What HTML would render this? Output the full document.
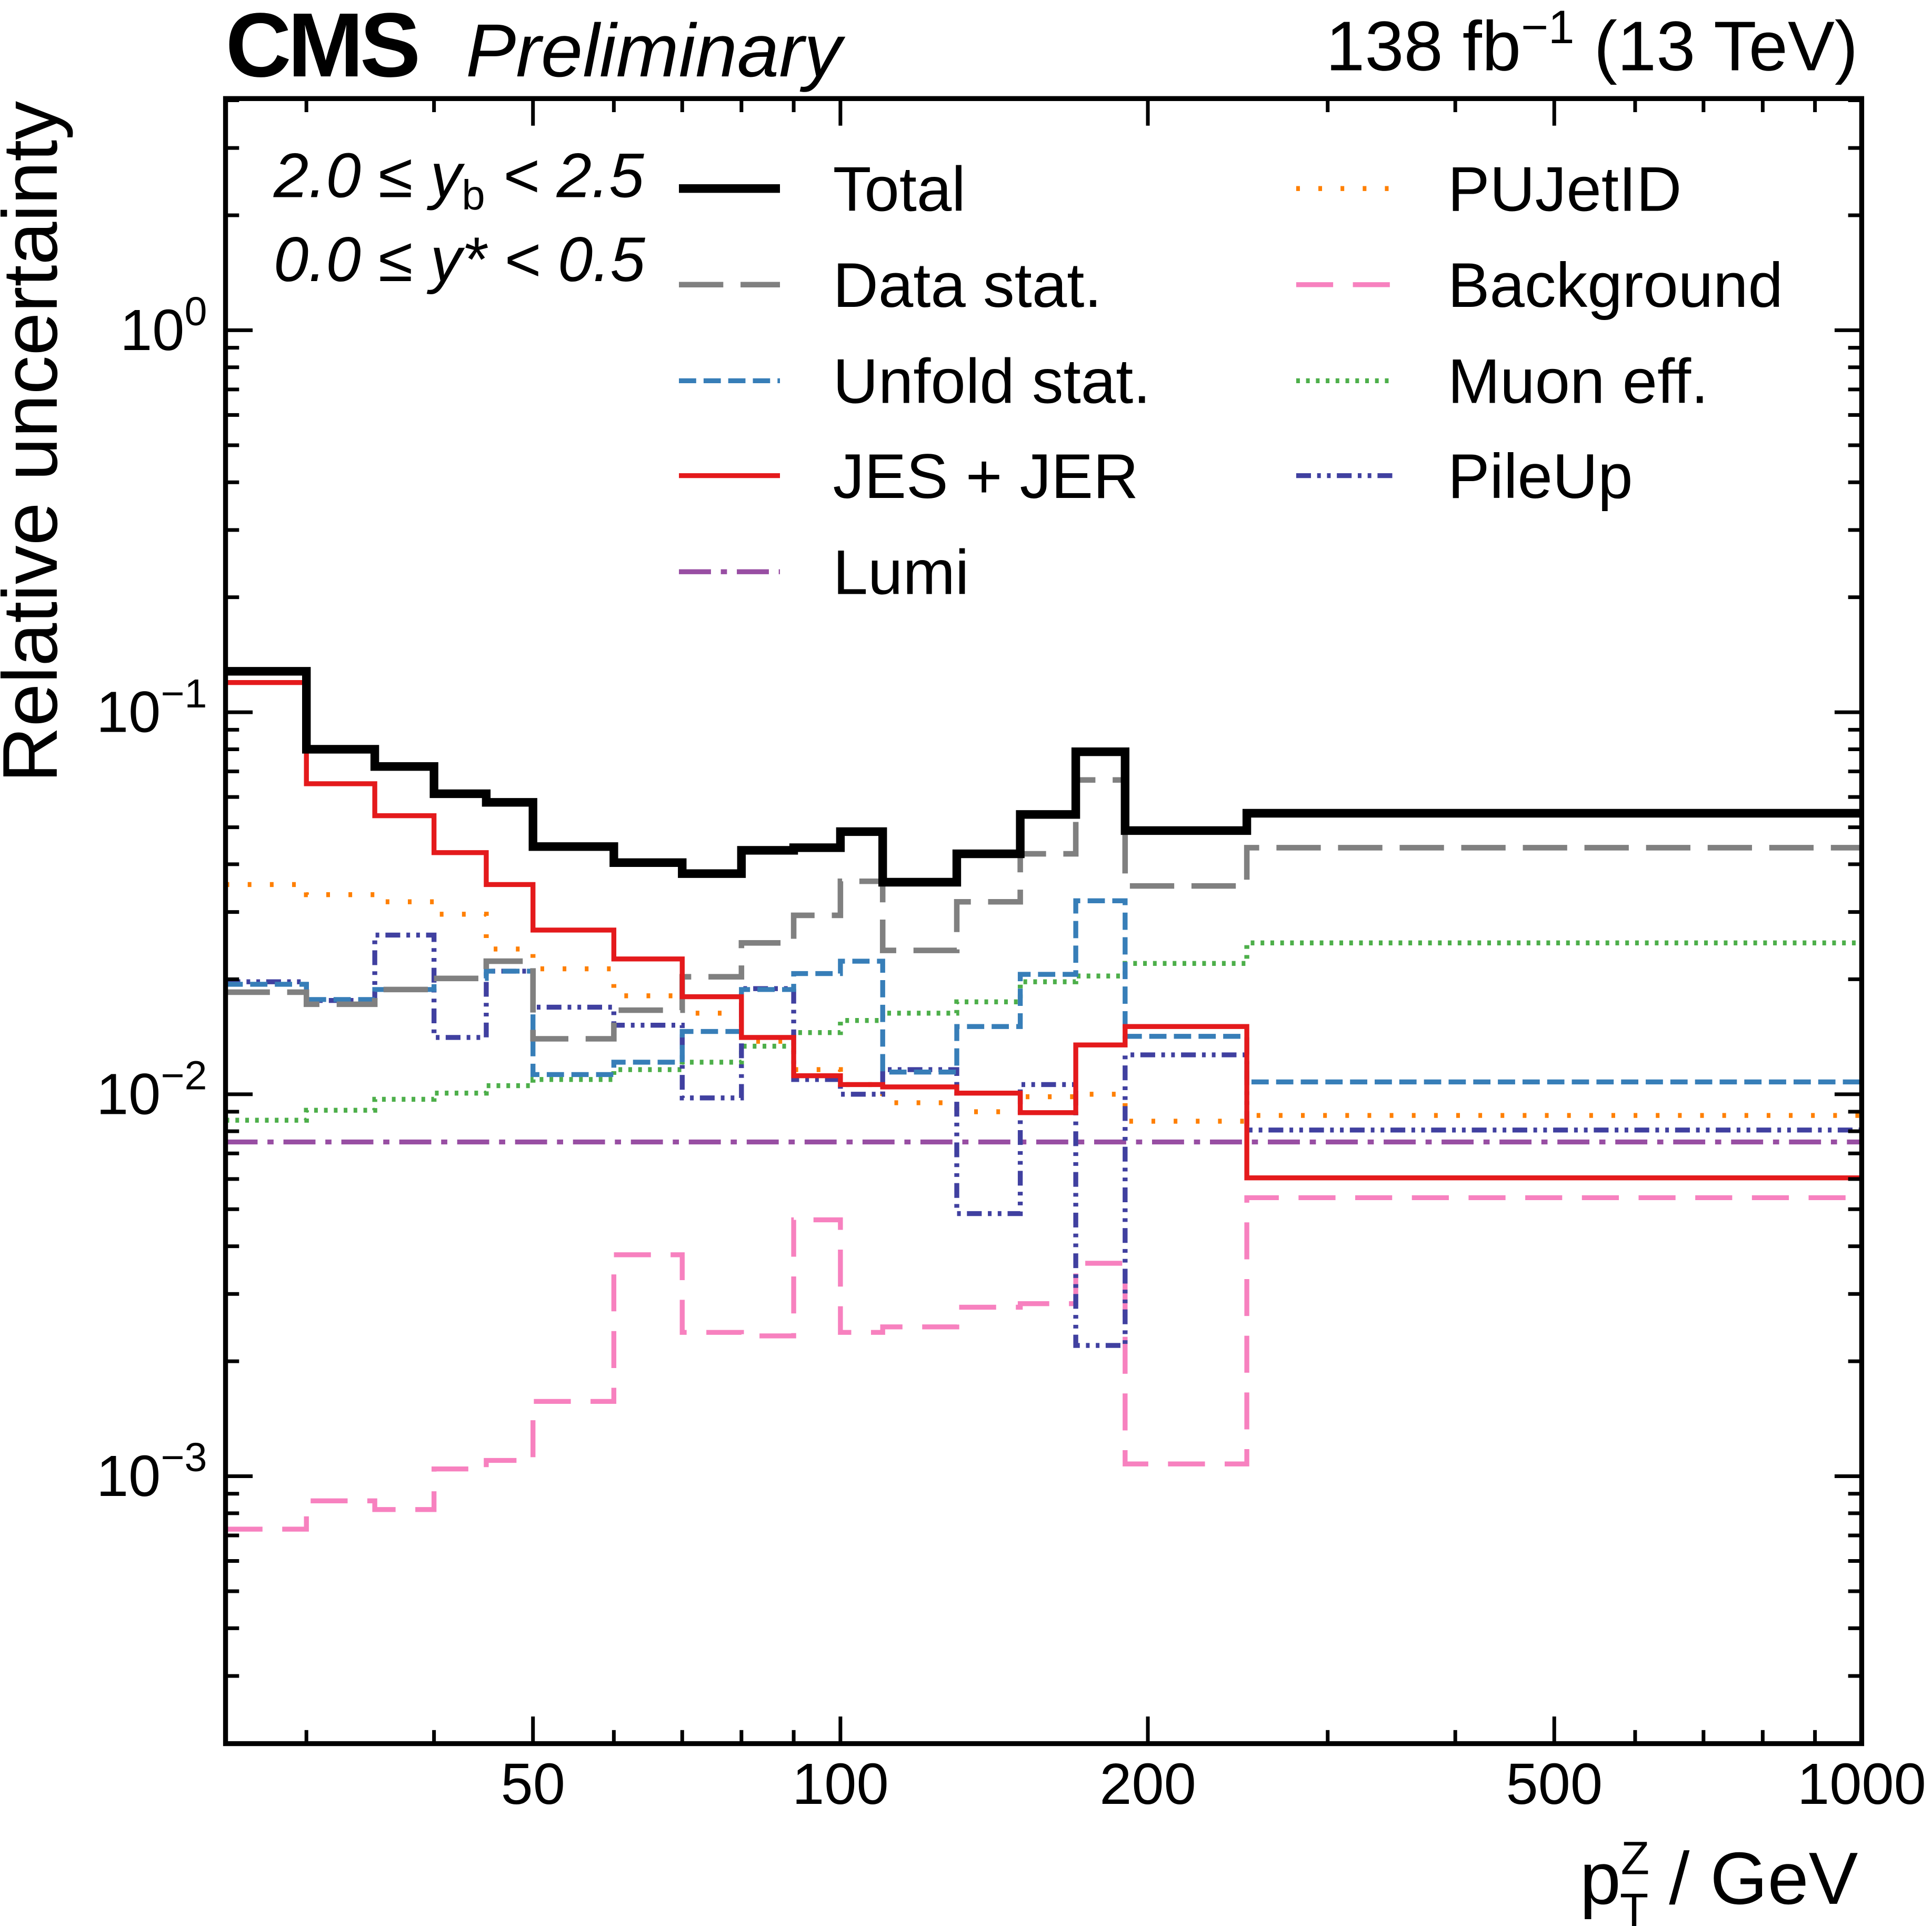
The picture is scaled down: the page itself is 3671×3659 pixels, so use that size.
<!DOCTYPE html>
<html><head><meta charset="utf-8">
<style>html,body{margin:0;padding:0;background:#fff}svg{display:block}text{font-family:"Liberation Sans","DejaVu Sans",sans-serif}</style>
</head><body>
<svg id="chart" width="3671" height="3659" viewBox="0 0 1568 1563" xmlns="http://www.w3.org/2000/svg">
<rect x="0" y="0" width="1568" height="1563" fill="#fff"/>
<g id="marks"></g>
<g id="ticks"></g>
<rect x="183" y="80" width="1328" height="1335" fill="none" stroke="#000" stroke-width="4"/>
<text x="183" y="62" font-size="74" font-weight="bold" letter-spacing="-3">CMS</text>
<text x="378" y="62" font-size="61" font-style="italic">Preliminary</text>
<text x="1508" y="57" font-size="57" text-anchor="end">138 fb<tspan dy="-22" font-size="38">−1</tspan><tspan dy="22"> (13 TeV)</tspan></text>
<text transform="translate(46,82) rotate(-90)" font-size="63" text-anchor="end">Relative uncertainty</text>
<text x="1508" y="1545" font-size="60" text-anchor="end">p<tspan font-size="38" dx="0" dy="-24">Z</tspan><tspan font-size="38" dx="-24" dy="42">T</tspan><tspan dy="-18"> / GeV</tspan></text>
<text x="222" y="160" font-size="51" font-style="italic">2.0 ≤ y<tspan font-size="34" dy="10" font-style="normal">b</tspan><tspan dy="-10"> &lt; 2.5</tspan></text>
<text x="222" y="228" font-size="51" font-style="italic">0.0 ≤ y* &lt; 0.5</text>
<g id="legend"></g>
</svg>
<script>
const edges=[25,30,35,40,45,50,60,70,80,90,100,110,130,150,170,190,250,1000];
const totalVals=[0.128,0.080,0.0721,0.0612,0.0581,0.0445,0.0404,0.0378,0.0435,0.0442,0.0487,0.0359,0.0426,0.054,0.0788,0.049,0.0544];
const dataStatVals=[0.0185,0.0172,0.0188,0.0201,0.0223,0.01397,0.0166,0.0203,0.0249,0.0294,0.0361,0.0238,0.0319,0.0426,0.0665,0.0351,0.0442];
const unfoldVals=[0.0194,0.0177,0.0188,0.0201,0.0210,0.01126,0.01213,0.0146,0.0188,0.0207,0.0223,0.01143,0.01504,0.0206,0.0321,0.01418,0.01077];
const jesVals=[0.1196,0.065,0.0536,0.0429,0.0354,0.0269,0.0226,0.018,0.01408,0.01118,0.0106,0.01045,0.01007,0.00895,0.01346,0.01504,0.00604];
const lumiVals=[0.0075,0.0075,0.0075,0.0075,0.0075,0.0075,0.0075,0.0075,0.0075,0.0075,0.0075,0.0075,0.0075,0.0075,0.0075,0.0075,0.0075];
const puJetVals=[0.0354,0.0333,0.0319,0.0296,0.024,0.0213,0.0181,0.0163,0.01376,0.0116,0.0106,0.0095,0.0090,0.00985,0.0100,0.0085,0.0088];
const bkgVals=[0.000727,0.000862,0.000818,0.001045,0.0011,0.00157,0.0038,0.00238,0.00233,0.00469,0.00238,0.00246,0.00277,0.00283,0.00361,0.001077,0.00536];
const muonVals=[0.00855,0.00908,0.0097,0.01007,0.01053,0.01093,0.0116,0.01213,0.01336,0.0145,0.0156,0.0163,0.01745,0.0197,0.0204,0.022,0.0249];
const pileupVals=[0.0197,0.0176,0.0261,0.01408,0.021,0.0169,0.01516,0.00978,0.0189,0.01093,0.0100,0.0116,0.00487,0.0106,0.0022,0.01268,0.00806];
const xTickVals=[50,100,200,500,1000];
const xTickLabels=["50","100","200","500","1000"];
const xMinorVals=[30,40,60,70,80,90,300,400,600,700,800,900];
const yDecades=[0,-1,-2,-3];
const yTickLabels=["0","−1","−2","−3"];

const NS="http://www.w3.org/2000/svg";
const X0=183,X1=1511,Y0=80,Y1=1415;
const xmin=25,xmax=1000,ymin=Math.pow(10,-3.7),ymax=Math.pow(10,0.6065);
function xs(v){return X0+(Math.log10(v)-Math.log10(xmin))/(Math.log10(xmax)-Math.log10(xmin))*(X1-X0);}
function ys(v){return Y1-(Math.log10(v)-Math.log10(ymin))/(Math.log10(ymax)-Math.log10(ymin))*(Y1-Y0);}
function mk(tag,attrs,parent){const e=document.createElementNS(NS,tag);for(const k in attrs)e.setAttribute(k,attrs[k]);parent.appendChild(e);return e;}
const marks=document.getElementById('marks');
const series=[
 {name:'lumi',vals:lumiVals,color:'#984ea3',w:4,dash:'26,8,5,8',label:'Lumi'},
 {name:'background',vals:bkgVals,color:'#f781bf',w:4,dash:'30,16',label:'Background'},
 {name:'muon-eff',vals:muonVals,color:'#4daf4a',w:4,dash:'3,5',label:'Muon eff.'},
 {name:'pujetid',vals:puJetVals,color:'#ff7f00',w:4,dash:'3,15',label:'PUJetID'},
 {name:'pileup',vals:pileupVals,color:'#4040a0',w:4,dash:'12,5,3,5,3,5',label:'PileUp'},
 {name:'unfold-stat',vals:unfoldVals,color:'#377eb8',w:4,dash:'14,6',label:'Unfold stat.'},
 {name:'data-stat',vals:dataStatVals,color:'#808080',w:4.5,dash:'36,14',label:'Data stat.'},
 {name:'jes-jer',vals:jesVals,color:'#e41a1c',w:4,dash:'',label:'JES + JER'},
 {name:'total',vals:totalVals,color:'#000',w:7,dash:'',label:'Total'}
];
series.forEach(s=>{
  let d='M'+xs(edges[0])+' '+ys(s.vals[0])+' H'+xs(edges[1]);
  for(let i=1;i<edges.length-1;i++){d+=' V'+ys(s.vals[i])+' H'+xs(edges[i+1]);}
  const p=mk('path',{d:d,fill:'none',stroke:s.color,'stroke-width':s.w},marks);
  if(s.dash)p.setAttribute('stroke-dasharray',s.dash);
  
  
});
const ticks=document.getElementById('ticks');
xTickVals.forEach((v,i)=>{
  const x=xs(v);
  mk('line',{x1:x,x2:x,y1:Y1,y2:Y1-22,stroke:'#000','stroke-width':3},ticks);
  mk('line',{x1:x,x2:x,y1:Y0,y2:Y0+22,stroke:'#000','stroke-width':3},ticks);
  const t=mk('text',{x:x,y:1464,'font-size':47,'text-anchor':'middle'},ticks);
  t.textContent=xTickLabels[i];
  
  
});
xMinorVals.forEach(v=>{
  const x=xs(v);
  mk('line',{x1:x,x2:x,y1:Y1,y2:Y1-11,stroke:'#000','stroke-width':3},ticks);
  mk('line',{x1:x,x2:x,y1:Y0,y2:Y0+11,stroke:'#000','stroke-width':3},ticks);
});
yDecades.forEach((d,i)=>{
  const y=ys(Math.pow(10,d));
  mk('line',{x1:X0,x2:X0+22,y1:y,y2:y,stroke:'#000','stroke-width':3},ticks);
  mk('line',{x1:X1,x2:X1-22,y1:y,y2:y,stroke:'#000','stroke-width':3},ticks);
  const t=mk('text',{x:168,y:y+16,'font-size':47,'text-anchor':'end'},ticks);
  t.textContent='10';
  const sp=mk('tspan',{dy:-20,'font-size':33},t);sp.textContent=yTickLabels[i];
  
  
});
for(let d=-4;d<=0;d++){for(let m=2;m<=9;m++){const v=m*Math.pow(10,d);if(v<ymin||v>ymax)continue;const y=ys(v);
  mk('line',{x1:X0,x2:X0+11,y1:y,y2:y,stroke:'#000','stroke-width':3},ticks);
  mk('line',{x1:X1,x2:X1-11,y1:y,y2:y,stroke:'#000','stroke-width':3},ticks);}}
const leg=document.getElementById('legend');
const order=[['total','data-stat','unfold-stat','jes-jer','lumi'],['pujetid','background','muon-eff','pileup']];
const colX=[[551,633,676],[1052,1132,1175]];
const rowY=[153,231,309,386,464];
order.forEach((col,ci)=>col.forEach((nm,ri)=>{
  const s=series.find(q=>q.name===nm);
  const y=rowY[ri];
  const l=mk('line',{x1:colX[ci][0],x2:colX[ci][1],y1:y,y2:y,stroke:s.color,'stroke-width':s.w},leg);
  if(s.dash)l.setAttribute('stroke-dasharray',s.dash);
  
  
  const t=mk('text',{x:colX[ci][2],y:y+18,'font-size':51},leg);
  t.textContent=s.label;
  
  
}));
</script>
</body></html>
